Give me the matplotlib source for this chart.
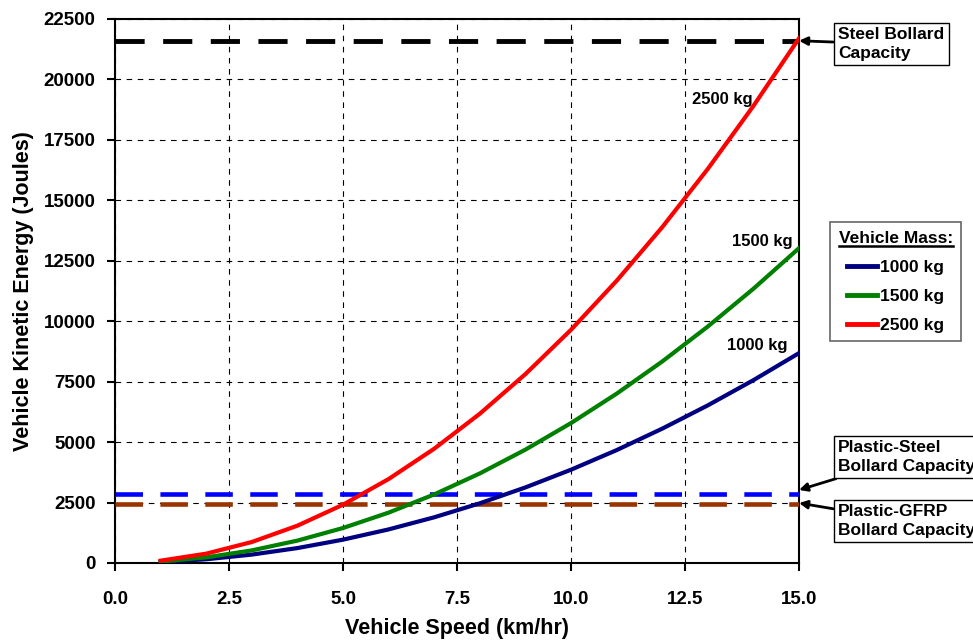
import matplotlib
matplotlib.use("Agg")
import matplotlib.pyplot as plt
from matplotlib.lines import Line2D

plt.rcParams['font.family'] = ['Liberation Sans', 'DejaVu Sans']
plt.rcParams['font.weight'] = 'bold'

speed_kmh = [1, 2, 3, 4, 5, 6, 7, 8, 9, 10, 11, 12, 13, 14, 15]
ke_1000 = [39, 154, 347, 617, 965, 1389, 1890, 2469, 3125, 3858, 4668, 5556, 6520, 7562, 8681]
ke_1500 = [58, 231, 521, 926, 1447, 2083, 2836, 3704, 4688, 5787, 7002, 8333, 9780, 11343, 13021]
ke_2500 = [96, 386, 868, 1543, 2411, 3472, 4726, 6173, 7813, 9645, 11671, 13889, 16300, 18904, 21701]

steel_capacity = 21600
plastic_steel_capacity = 2850
plastic_gfrp_capacity = 2450

x_ticks = [0, 2.5, 5, 7.5, 10, 12.5, 15]
y_ticks = [0, 2500, 5000, 7500, 10000, 12500, 15000, 17500, 20000, 22500]

fig = plt.figure(figsize=(9.73, 6.41), dpi=100)
ax = fig.add_axes([0.1182, 0.1217, 0.7030, 0.8487])

dash = (0, (6, 3.8))
ax.axhline(steel_capacity, color='black', lw=3.5, ls=dash, zorder=3)
ax.axhline(plastic_steel_capacity, color='#0000FF', lw=3.3, ls=dash, zorder=3)
ax.axhline(plastic_gfrp_capacity, color='#993300', lw=3.3, ls=dash, zorder=3)

ax.plot(speed_kmh, ke_1000, color='#000080', lw=3, zorder=4)
ax.plot(speed_kmh, ke_1500, color='#008000', lw=3, zorder=4)
ax.plot(speed_kmh, ke_2500, color='#FF0000', lw=3, zorder=4)

ax.set_xlim(0, 15)
ax.set_ylim(0, 22500)
ax.set_xticks(x_ticks)
ax.set_yticks(y_ticks)
ax.set_xticklabels([f'{t:.1f}' for t in x_ticks])
ax.tick_params(direction='out', length=6, width=1.5, labelsize=13.5)
ax.tick_params(axis='x', pad=14)
ax.tick_params(axis='y', pad=8)
ax.grid(True, color='black', ls=(0, (5, 5)), lw=0.8)
for s in ax.spines.values():
    s.set_linewidth(1.5)

ax.set_xlabel('Vehicle Speed (km/hr)', fontsize=15.5, fontweight='bold')
ax.set_ylabel('Vehicle Kinetic Energy (Joules)', fontsize=15.5, fontweight='bold')
ax.xaxis.set_label_coords(0.5, -0.102)
ax.yaxis.set_label_coords(-0.119, 0.5)

# curve labels
ax.text(13.31, 19150, '2500 kg', fontsize=12, ha='center', va='center')
ax.text(14.19, 13280, '1500 kg', fontsize=12, ha='center', va='center')
ax.text(14.08, 8980, '1000 kg', fontsize=12, ha='center', va='center')

# capacity annotations outside the axes
box = dict(boxstyle='square,pad=0.25', fc='white', ec='black', lw=1)
arrow = dict(arrowstyle='-|>', color='black', lw=2, mutation_scale=12, shrinkA=0, shrinkB=0)
notes = [('Steel Bollard\nCapacity', steel_capacity, 0.931),
         ('Plastic-Steel\nBollard Capacity', 3020, 0.287),
         ('Plastic-GFRP\nBollard Capacity', 2480, 0.187)]
for label, y_target, y_box in notes:
    ax.annotate(label, xy=(15, y_target), xycoords='data',
                xytext=(0.8613, y_box), textcoords='figure fraction',
                fontsize=12.5, linespacing=1.3, ha='left', va='center',
                bbox=box, arrowprops=arrow, annotation_clip=False)

# legend
handles = [Line2D([], [], color='#000080', lw=3.5),
           Line2D([], [], color='#008000', lw=3.5),
           Line2D([], [], color='#FF0000', lw=3.5)]
leg = fig.legend(handles, ['1000 kg', '1500 kg', '2500 kg'], title='Vehicle Mass:',
                 loc='upper left', bbox_to_anchor=(0.853, 0.6537), borderaxespad=0,
                 fontsize=12.5, title_fontsize=12.5, frameon=True, fancybox=False,
                 edgecolor='#404040', handlelength=1.7, handletextpad=0.2,
                 labelspacing=0.8, borderpad=0.5)
leg.get_title().set_fontweight('bold')
leg.get_frame().set_linewidth(1.2)

# underline the legend title
fig.canvas.draw()
bb = leg.get_title().get_window_extent().transformed(fig.transFigure.inverted())
fig.add_artist(Line2D([bb.x0, bb.x1], [bb.y0 - 0.001, bb.y0 - 0.001],
                      transform=fig.transFigure, color='black', lw=1.8, zorder=10))

fig.savefig('out.png', dpi=100)
